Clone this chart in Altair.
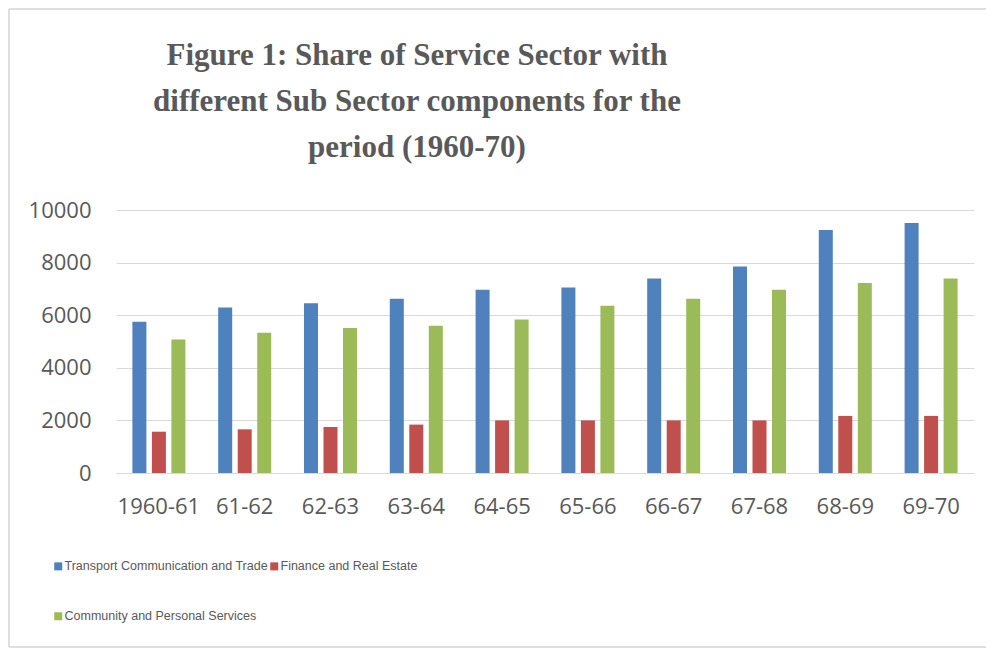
import altair as alt
import pandas as pd

periods = ["1960-61", "61-62", "62-63", "63-64", "64-65", "65-66", "66-67", "67-68", "68-69", "69-70"]
sectors = ["Transport Communication and Trade", "Finance and Real Estate", "Community and Personal Services"]
transport = [5750, 6290, 6450, 6630, 6970, 7050, 7400, 7850, 9240, 9510]
finance = [1570, 1660, 1750, 1840, 2000, 2000, 2000, 2000, 2170, 2170]
community = [5080, 5330, 5510, 5600, 5840, 6360, 6630, 6970, 7220, 7400]
colors = ["#4f81bd", "#c0504d", "#9bbb59"]
y_ticks = [0, 2000, 4000, 6000, 8000, 10000]

rows = []
for s, vals in zip(sectors, [transport, finance, community]):
    for p, v in zip(periods, vals):
        rows.append({"period": p, "sector": s, "value": v})
df = pd.DataFrame(rows)

label_font = "Open Sans"
gray = "#595959"

bars = alt.Chart(df).mark_bar().encode(
    x=alt.X("period:N", sort=periods, title=None,
            scale=alt.Scale(paddingInner=0.318, paddingOuter=0.159),
            axis=alt.Axis(labelAngle=0, labelFont=label_font, labelFontSize=22,
                          labelColor=gray, ticks=False, tickSize=0, domain=False,
                          labelPadding=23, grid=False)),
    xOffset=alt.XOffset("sector:N", sort=sectors,
                        scale=alt.Scale(paddingInner=0.282, paddingOuter=0.141)),
    y=alt.Y("value:Q", title=None,
            scale=alt.Scale(domain=[0, 10000]),
            axis=alt.Axis(values=y_ticks, format="d", labelFont=label_font, labelFontSize=22,
                          labelColor=gray, ticks=False, tickSize=0, domain=False,
                          labelPadding=25, grid=True, gridColor="#d9d9d9", gridWidth=1)),
    color=alt.Color("sector:N", sort=sectors,
                    scale=alt.Scale(domain=sectors, range=colors),
                    legend=alt.Legend(orient="none", legendX=-64, legendY=350,
                                      direction="horizontal", columns=2, title=None,
                                      symbolType="square", symbolSize=64,
                                      symbolStrokeWidth=0, labelFont="Liberation Sans",
                                      labelFontSize=12.5, labelColor=gray, labelOffset=0,
                                      columnPadding=0, rowPadding=37, padding=0,
                                      labelLimit=0)),
)

one = pd.DataFrame({"a": [0]})
border_color = "#d4d4d4"
top_line = alt.Chart(one).mark_rule(color=border_color, strokeWidth=1.5).encode(
    x=alt.value(-107), x2=alt.value(870), y=alt.value(-201), y2=alt.value(-201))
bottom_line = alt.Chart(one).mark_rule(color=border_color, strokeWidth=1.5).encode(
    x=alt.value(-107), x2=alt.value(870), y=alt.value(437), y2=alt.value(437))
left_line = alt.Chart(one).mark_rule(color=border_color, strokeWidth=1.5).encode(
    x=alt.value(-107), x2=alt.value(-107), y=alt.value(-201), y2=alt.value(437))

chart = alt.layer(bars, top_line, bottom_line, left_line).properties(
    width=858, height=263, padding=0, background="white",
    title=alt.TitleParams(
        text=["Figure 1: Share of Service Sector with",
              "different  Sub  Sector components for the",
              "period (1960-70)"],
        font="Liberation Serif", fontSize=31, fontWeight="bold", color=gray,
        lineHeight=46, anchor="middle", dx=-128, dy=200, offset=44),
).configure_view(strokeWidth=0)

chart.save("out.html", embed_options={"renderer": "svg", "actions": False})
